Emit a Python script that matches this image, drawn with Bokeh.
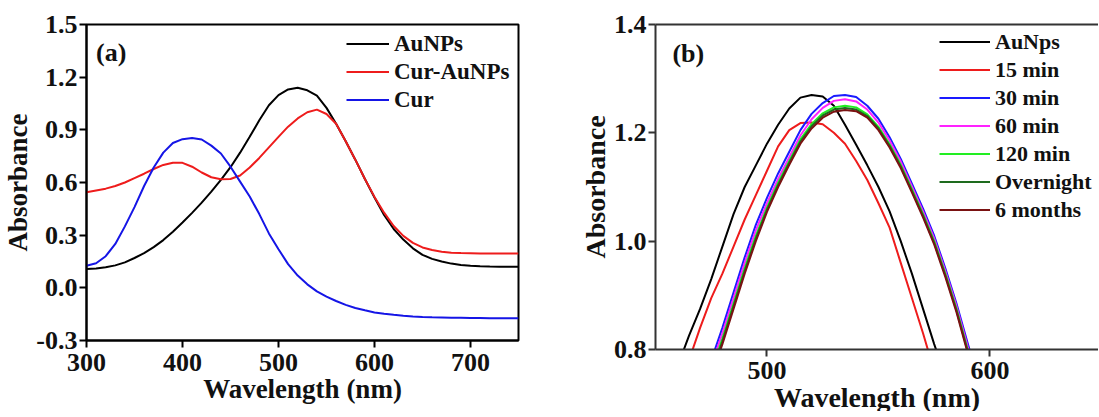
from bokeh.plotting import figure
from bokeh.layouts import row
from bokeh.models import (FixedTicker, PrintfTickFormatter, Legend, LegendItem,
                          Label, LinearAxis)
from bokeh.embed import file_html
from bokeh.resources import INLINE

# ---------------- Panel (a) data ----------------
wl_a = [300, 310, 320, 330, 340, 350, 360, 370, 380, 390,
        400, 410, 420, 430, 440, 450, 460, 470, 480, 490,
        500, 510, 520, 530, 540, 550, 560, 570, 580, 590,
        600, 610, 620, 630, 640, 650, 660, 670, 680, 690,
        700, 710, 720, 730, 740, 750]
aunps_a = [0.107, 0.110, 0.117, 0.128, 0.145, 0.170, 0.198, 0.232, 0.272, 0.320,
           0.372, 0.427, 0.485, 0.548, 0.615, 0.687, 0.770, 0.860, 0.955, 1.040,
           1.098, 1.130, 1.140, 1.125, 1.095, 1.025, 0.935, 0.835, 0.730, 0.620,
           0.515, 0.415, 0.335, 0.275, 0.225, 0.188, 0.165, 0.150, 0.138, 0.130,
           0.126, 0.123, 0.121, 0.120, 0.120, 0.120]
cur_aunps_a = [0.545, 0.555, 0.565, 0.580, 0.600, 0.625, 0.650, 0.677, 0.700, 0.713,
               0.712, 0.690, 0.657, 0.630, 0.618, 0.620, 0.640, 0.685, 0.740, 0.800,
               0.860, 0.918, 0.965, 1.000, 1.015, 0.990, 0.935, 0.835, 0.730, 0.620,
               0.518, 0.428, 0.352, 0.296, 0.256, 0.230, 0.215, 0.206, 0.200, 0.198,
               0.197, 0.196, 0.196, 0.196, 0.196, 0.196]
cur_a = [0.126, 0.140, 0.180, 0.250, 0.350, 0.460, 0.580, 0.685, 0.770, 0.825,
         0.847, 0.853, 0.845, 0.810, 0.765, 0.690, 0.605, 0.520, 0.420, 0.310,
         0.220, 0.135, 0.070, 0.020, -0.020, -0.050, -0.075, -0.097, -0.115, -0.128,
         -0.140, -0.148, -0.154, -0.159, -0.163, -0.166, -0.168, -0.169, -0.170, -0.171,
         -0.172, -0.172, -0.173, -0.173, -0.173, -0.173]
labels_a = ["AuNPs", "Cur-AuNPs", "Cur"]
colors_a = ["#000000", "#ee1c1c", "#1515e6"]
xticks_a = [300, 400, 500, 600, 700]
yticks_a = [-0.3, 0.0, 0.3, 0.6, 0.9, 1.2, 1.5]

# ---------------- Panel (b) data ----------------
wl_b = [455, 460, 465, 470, 475, 480, 485, 490, 495, 500,
        505, 510, 515, 520, 525, 530, 535, 540, 545, 550,
        555, 560, 565, 570, 575, 580, 585, 590, 595]
b_aunps = [0.720, 0.770, 0.825, 0.875, 0.930, 0.990, 1.050, 1.100, 1.140, 1.180,
           1.215, 1.245, 1.265, 1.270, 1.267, 1.250, 1.215, 1.178, 1.140, 1.100,
           1.055, 1.000, 0.940, 0.875, 0.810, 0.750, 0.700, 0.650, 0.600]
b_15min = [0.680, 0.730, 0.780, 0.840, 0.895, 0.940, 0.990, 1.040, 1.085, 1.130,
           1.175, 1.205, 1.218, 1.219, 1.216, 1.200, 1.180, 1.148, 1.113, 1.070,
           1.025, 0.960, 0.895, 0.830, 0.760, 0.700, 0.650, 0.600, 0.550]
b_30min = [0.550, 0.600, 0.660, 0.720, 0.780, 0.840, 0.905, 0.970, 1.030, 1.080,
           1.125, 1.165, 1.205, 1.235, 1.255, 1.268, 1.270, 1.266, 1.250, 1.226,
           1.192, 1.152, 1.106, 1.060, 1.010, 0.950, 0.885, 0.812, 0.740]
b_60min = [0.540, 0.590, 0.650, 0.710, 0.770, 0.830, 0.895, 0.960, 1.020, 1.070,
           1.115, 1.155, 1.195, 1.225, 1.246, 1.259, 1.262, 1.258, 1.243, 1.219,
           1.186, 1.147, 1.101, 1.055, 1.005, 0.945, 0.880, 0.806, 0.735]
b_120min = [0.530, 0.580, 0.640, 0.700, 0.760, 0.820, 0.885, 0.950, 1.010, 1.062,
            1.108, 1.148, 1.188, 1.216, 1.236, 1.247, 1.250, 1.247, 1.234, 1.211,
            1.179, 1.141, 1.096, 1.050, 1.000, 0.940, 0.875, 0.800, 0.730]
b_overnight = [0.525, 0.575, 0.635, 0.695, 0.755, 0.815, 0.880, 0.945, 1.005, 1.058,
               1.104, 1.145, 1.184, 1.212, 1.232, 1.243, 1.246, 1.243, 1.231, 1.208,
               1.176, 1.138, 1.093, 1.047, 0.997, 0.937, 0.872, 0.797, 0.727]
b_6months = [0.520, 0.570, 0.630, 0.690, 0.750, 0.810, 0.875, 0.940, 1.000, 1.054,
             1.100, 1.141, 1.180, 1.208, 1.228, 1.239, 1.242, 1.240, 1.228, 1.205,
             1.173, 1.135, 1.090, 1.044, 0.994, 0.934, 0.869, 0.794, 0.724]
labels_b = ["AuNps", "15 min", "30 min", "60 min", "120 min", "Overnight", "6 months"]
colors_b = ["#000000", "#ee1c1c", "#1a1aff", "#ff22ff", "#22ee22", "#1e6b1e", "#7a1212"]
xticks_b = [500, 600]
yticks_b = [0.8, 1.0, 1.2, 1.4]

FONT = "Liberation Serif"


def style_axes(p, tick_size, label_size, color, tick_standoff, label_standoff):
    for ax in (p.xaxis[0], p.yaxis[0]):
        ax.axis_line_width = 2
        ax.axis_line_color = color
        ax.major_tick_line_width = 2
        ax.major_tick_line_color = color
        ax.major_tick_out = 7
        ax.major_tick_in = 0
        ax.minor_tick_line_color = None
        ax.major_label_text_font = FONT
        ax.major_label_text_font_style = "bold"
        ax.major_label_text_font_size = tick_size
        ax.major_label_text_color = "#111111"
        ax.axis_label_text_font = FONT
        ax.axis_label_text_font_style = "bold"
        ax.axis_label_text_font_size = label_size
        ax.axis_label_text_color = "#111111"
    p.xaxis[0].major_label_standoff = tick_standoff
    p.xaxis[0].axis_label_standoff = label_standoff
    p.yaxis[0].major_label_standoff = 2
    p.yaxis[0].axis_label_standoff = 0


def make_legend(p, renderers, labels, loc, font_size, glyph_w):
    items = [LegendItem(label=l, renderers=[r]) for l, r in zip(labels, renderers)]
    leg = Legend(items=items, location=loc, border_line_color=None,
                 background_fill_alpha=0, padding=0, margin=0, spacing=1,
                 label_height=27, glyph_height=27, glyph_width=glyph_w,
                 label_standoff=5, label_text_font=FONT,
                 label_text_font_style="bold", label_text_font_size=font_size,
                 label_text_color="#111111")
    p.add_layout(leg)


# ---------------- Panel (a) ----------------
p1 = figure(frame_width=432, frame_height=316, x_range=(300, 750), y_range=(-0.3, 1.5),
            output_backend="svg", toolbar_location=None,
            min_border_left=86, min_border_right=40, min_border_top=24, min_border_bottom=60)
p1.grid.visible = False
p1.outline_line_color = "#000000"
p1.outline_line_width = 2
p1.xaxis.ticker = FixedTicker(ticks=xticks_a)
p1.yaxis.ticker = FixedTicker(ticks=yticks_a)
p1.yaxis.formatter = PrintfTickFormatter(format="%.1f")
p1.xaxis.axis_label = "Wavelength (nm)"
p1.yaxis.axis_label = "Absorbance"
style_axes(p1, "26px", "27px", "#000000", 6, 0)

rend_a = []
for ys, c in zip([aunps_a, cur_aunps_a, cur_a], colors_a):
    rend_a.append(p1.line(wl_a, ys, line_color=c, line_width=2))
make_legend(p1, rend_a, labels_a, (260, 227), "23px", 43)
p1.add_layout(Label(x=310, y=1.342, text="(a)", text_font=FONT, text_font_style="bold",
                    text_font_size="26px", text_baseline="middle", text_color="#111111"))

# ---------------- Panel (b) ----------------
p2 = figure(frame_width=443, frame_height=325, x_range=(450, 648.7), y_range=(0.8, 1.4),
            output_backend="svg", toolbar_location=None,
            min_border_left=97, min_border_right=0, min_border_top=20, min_border_bottom=66)
p2.grid.visible = False
p2.outline_line_color = None
p2.xaxis.ticker = FixedTicker(ticks=xticks_b)
p2.yaxis.ticker = FixedTicker(ticks=yticks_b)
p2.yaxis.formatter = PrintfTickFormatter(format="%.1f")
p2.xaxis.axis_label = "Wavelength (nm)"
p2.yaxis.axis_label = "Absorbance"
style_axes(p2, "26px", "28px", "#333333", 5, 0)
top = LinearAxis(ticker=FixedTicker(ticks=[]), axis_line_width=2, axis_line_color="#333333",
                 major_tick_out=0, major_tick_in=0, minor_tick_out=0, minor_tick_in=0,
                 major_label_text_font_size="0px")
p2.add_layout(top, "above")

rend_b = []
for ys, c in zip([b_aunps, b_15min, b_30min, b_60min, b_120min, b_overnight, b_6months], colors_b):
    rend_b.append(p2.line(wl_b, ys, line_color=c, line_width=2))
make_legend(p2, rend_b, labels_b, (284, 126), "22px", 51)
p2.add_layout(Label(x=457.6, y=1.346, text="(b)", text_font=FONT, text_font_style="bold",
                    text_font_size="26px", text_baseline="middle", text_color="#111111"))

layout = row(p1, p2)
open("out.html", "w").write(file_html(layout, INLINE))
